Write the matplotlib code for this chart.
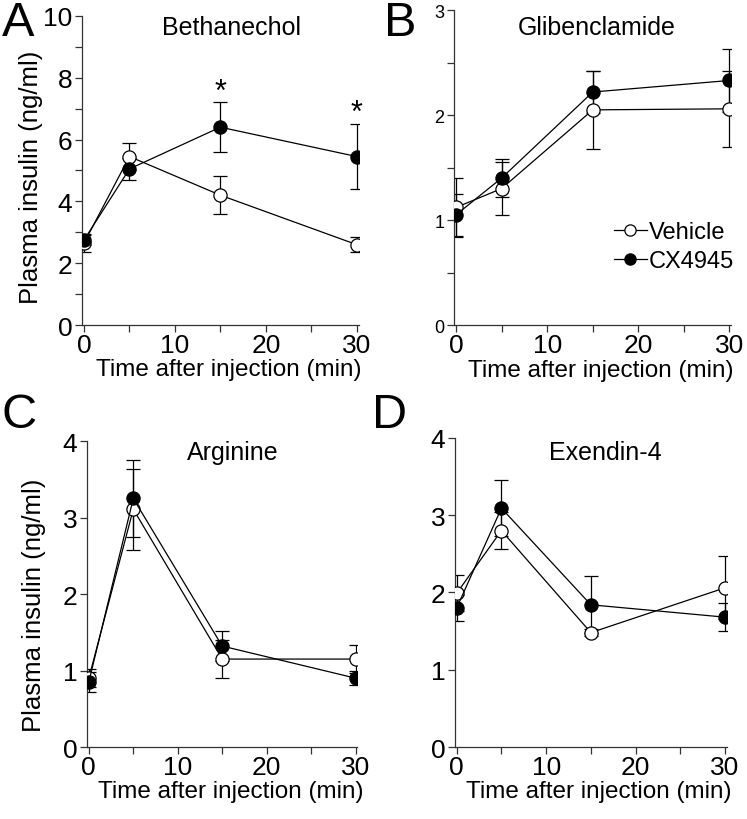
import matplotlib
matplotlib.use('Agg')
import matplotlib.pyplot as plt

plt.rcParams['font.family'] = ['Liberation Sans', 'DejaVu Sans']

# ============================================================
# DU LIEU (doc tu hinh)
# ============================================================
time_min = [0, 5, 15, 30]

# A: Bethanechol
beth_veh = [2.65, 5.45, 4.2, 2.6]
beth_veh_err = [0.3, 0.45, 0.62, 0.25]
beth_cx = [2.75, 5.05, 6.4, 5.45]
beth_cx_err = [0.15, 0.35, 0.8, 1.05]
beth_star_y = [None, None, 7.55, 6.85]

# B: Glibenclamide
glib_veh = [1.12, 1.3, 2.05, 2.06]
glib_veh_err = [0.28, 0.25, 0.37, 0.36]
glib_cx = [1.05, 1.4, 2.22, 2.33]
glib_cx_err = [0.2, 0.18, 0.2, 0.3]

# C: Arginine
arg_veh = [0.9, 3.11, 1.15, 1.15]
arg_veh_err = [0.12, 0.53, 0.25, 0.18]
arg_cx = [0.85, 3.25, 1.32, 0.9]
arg_cx_err = [0.13, 0.5, 0.2, 0.09]

# D: Exendin-4
exe_veh = [1.99, 2.8, 1.48, 2.06]
exe_veh_err = [0.23, 0.24, 0.05, 0.41]
exe_cx = [1.8, 3.09, 1.84, 1.68]
exe_cx_err = [0.17, 0.36, 0.37, 0.18]

# ============================================================
# CAU HINH PANEL
# ============================================================
panels = [
    # letter, title, veh, veh_err, cx, cx_err, ymax, ymajor, yminor,
    # ylabel_xy (None = khong co), rect, title_xy, letter_xy
    ("A", "Bethanechol", beth_veh, beth_veh_err, beth_cx, beth_cx_err,
     10, 2, 1, (-0.14, 0.48), [0.110, 0.6024, 0.370, 0.3770], (0.54, 0.965), (0.002, 0.999)),
    ("B", "Glibenclamide", glib_veh, glib_veh_err, glib_cx, glib_cx_err,
     3, 1, 0.5, None, [0.608, 0.6024, 0.371, 0.3840], (0.516, 0.946), (0.514, 0.999)),
    ("C", "Arginine", arg_veh, arg_veh_err, arg_cx, arg_cx_err,
     4, 1, None, (-0.15, 0.467), [0.1165, 0.0878, 0.362, 0.3730], (0.54, 0.964), (0.002, 0.521)),
    ("D", "Exendin-4", exe_veh, exe_veh_err, exe_cx, exe_cx_err,
     4, 1, None, None, [0.609, 0.0878, 0.364, 0.3770], (0.553, 0.955), (0.498, 0.521)),
]

fig = plt.figure(figsize=(7.47, 8.2), dpi=100)

LW = 0.9
MS = 9.5
for (letter, title, veh, veh_err, cx, cx_err, ymax, ymaj, ymin_step,
     ylabel_xy, rect, title_xy, letter_xy) in panels:
    ax = fig.add_axes(rect)
    # error bars
    ax.errorbar(time_min, veh, yerr=veh_err, fmt='none', ecolor='black',
                elinewidth=LW, capsize=5, capthick=LW, zorder=2)
    ax.errorbar(time_min, cx, yerr=cx_err, fmt='none', ecolor='black',
                elinewidth=LW, capsize=5, capthick=LW, zorder=2)
    l1, = ax.plot(time_min, veh, '-o', color='black', lw=LW, ms=MS,
                  mfc='white', mec='black', mew=LW, zorder=3, label='Vehicle')
    l2, = ax.plot(time_min, cx, '-o', color='black', lw=LW, ms=MS,
                  mfc='black', mec='black', mew=LW, zorder=4, label='CX4945')

    ax.set_xlim(-0.2, 30.2)
    ax.set_ylim(0, ymax)
    ax.spines['top'].set_visible(False)
    ax.spines['right'].set_visible(False)
    for s in ['left', 'bottom']:
        ax.spines[s].set_linewidth(0.9)
        ax.spines[s].set_color('#333333')

    ax.set_xticks([0, 5, 10, 15, 20, 25, 30])
    ax.set_xticklabels(['0', '', '10', '', '20', '', '30'])
    yt = [i * ymaj for i in range(int(round(ymax / ymaj)) + 1)]
    ax.set_yticks(yt)
    ax.set_yticklabels([str(int(v)) for v in yt])
    if ymin_step:
        n = int(round(ymax / ymin_step))
        ax.set_yticks([i * ymin_step for i in range(n + 1)], minor=True)
    ax.tick_params(axis='both', which='both', direction='out', length=5,
                   width=0.9, color='#333333')
    ytick_fs = 13 if letter == 'B' else 19
    ax.tick_params(axis='y', labelsize=ytick_fs, pad=2)
    ax.tick_params(axis='x', labelsize=19, pad=1)

    ax.set_xlabel("Time after injection (min)", fontsize=17.5)
    ax.xaxis.set_label_coords(0.53, -0.108)
    if ylabel_xy is not None:
        ax.set_ylabel("Plasma insulin (ng/ml)", fontsize=18.5)
        ax.yaxis.set_label_coords(*ylabel_xy)

    ax.text(title_xy[0], title_xy[1], title, transform=ax.transAxes,
            ha='center', va='center', fontsize=18)

    if letter == 'A':
        for t, y in zip(time_min, beth_star_y):
            if y is not None:
                ax.text(t, y, '*', ha='center', va='center', fontsize=22)
    if letter == 'B':
        ax.legend(handles=[l1, l2], loc='center right',
                  bbox_to_anchor=(1.07, 0.25), frameon=False, fontsize=17,
                  handlelength=1.4, handletextpad=0.1, labelspacing=0.3,
                  markerscale=0.85, borderpad=0.2)

    # chu cai panel
    fig.text(letter_xy[0], letter_xy[1], letter, fontsize=35,
             ha='left', va='top')

fig.savefig('out.png', dpi=100)
